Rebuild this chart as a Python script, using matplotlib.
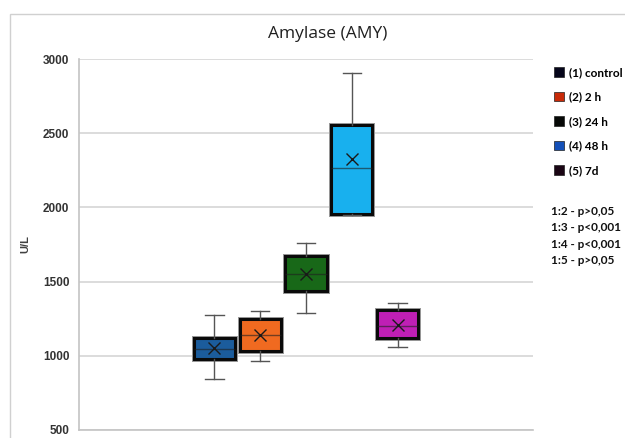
import matplotlib
matplotlib.use("Agg")
import matplotlib.pyplot as plt
import matplotlib.patheffects as pe
from matplotlib.patches import Patch, Rectangle

groups = ['(1) control', '(2) 2 h', '(3) 24 h', '(4) 48 h', '(5) 7d']
whislo = [845, 966, 1288, 1950, 1056]
q1 = [980, 1029, 1436, 1957, 1119]
med = [1047, 1137, 1552, 2264, 1204]
q3 = [1121, 1249, 1675, 2555, 1308]
whishi = [1276, 1305, 1761, 2909, 1355]
means = [1054, 1140, 1550, 2325, 1210]
box_colors = ['#1b5c9c', '#f06a20', '#186818', '#18b0ee', '#bf1fb5']
legend_colors = ['#05051a', '#c82a08', '#060806', '#1450b8', '#1a0514']
pvals = ['1:2 - p>0,05', '1:3 - p<0,001', '1:4 - p<0,001', '1:5 - p>0,05']

plt.rcParams['font.family'] = ['Liberation Sans', 'DejaVu Sans']

fig = plt.figure(figsize=(6.25, 4.38), dpi=100)
fig.patches.append(Rectangle((10/625, -0.2), 1.2, 1 - 14/438 + 0.2, transform=fig.transFigure,
                             fill=False, edgecolor='#d0d0d0', linewidth=1))
ax = fig.add_axes([79/625, 8/438, (533-79)/625, (430-59)/438])

stats = []
for i in range(len(groups)):
    stats.append(dict(label=groups[i], whislo=whislo[i], q1=q1[i], med=med[i],
                      q3=q3[i], whishi=whishi[i], mean=means[i], fliers=[]))

bp = ax.bxp(stats, positions=range(1, 6), widths=0.9, showmeans=True, patch_artist=True,
            boxprops=dict(edgecolor='#0a0a0a', linewidth=2.2),
            whiskerprops=dict(color='#555555', linewidth=1),
            capprops=dict(color='#555555', linewidth=1),
            medianprops=dict(linewidth=1),
            meanprops=dict(marker='x', markeredgecolor='#1a1a1a', markersize=8, markeredgewidth=1),
            capwidths=0.4, zorder=3)
for b, m, c in zip(bp['boxes'], bp['medians'], box_colors):
    b.set_facecolor(c)
    b.set_path_effects([pe.Stroke(linewidth=3.6, foreground='#9a9a9a'), pe.Normal()])
    m.set_color('#202020')
    m.set_alpha(0.6)

ax.set_xlim(-1.96, 7.96)
ax.set_ylim(500, 3000)
ax.set_yticks([500, 1000, 1500, 2000, 2500, 3000])
ax.set_xticks([])
ax.yaxis.grid(True, color='#d6d6d6', linewidth=1.2)
ax.set_axisbelow(True)
for s in ['top', 'right']:
    ax.spines[s].set_visible(False)
for s in ['left', 'bottom']:
    ax.spines[s].set_color('#c4c4c4')
    ax.spines[s].set_linewidth(1.2)
ax.tick_params(axis='y', length=0, pad=7, labelsize=8.5, labelcolor='#333333')
for t in ax.get_yticklabels():
    t.set_fontweight('bold')
ax.set_ylabel('U/L', fontsize=8, color='#404040', fontweight='bold')
ax.yaxis.set_label_coords(-0.108, 0.5)

fig.text(328/625, 1 - 34/438, 'Amylase (AMY)', ha='center', va='center', fontsize=12.5,
         color='#202020', family=['Open Sans', 'DejaVu Sans'])

handles = [Patch(facecolor=c, edgecolor='#202020', linewidth=0.5) for c in legend_colors]
fig.legend(handles, groups, loc='upper left', bbox_to_anchor=(548/625, 1 - 61/438),
           frameon=False, handlelength=0.85, handleheight=0.85,
           handletextpad=0.4, labelspacing=1.15, borderpad=0,
           prop=dict(family=['Lato', 'DejaVu Sans'], weight='bold', size=8.5))

fig.text(551/625, 1 - 206/438, '\n'.join(pvals), ha='left', va='top', fontsize=8.5,
         linespacing=1.6, color='#111111', family=['Lato', 'DejaVu Sans'], fontweight='bold')

fig.savefig('out.png', dpi=100)
